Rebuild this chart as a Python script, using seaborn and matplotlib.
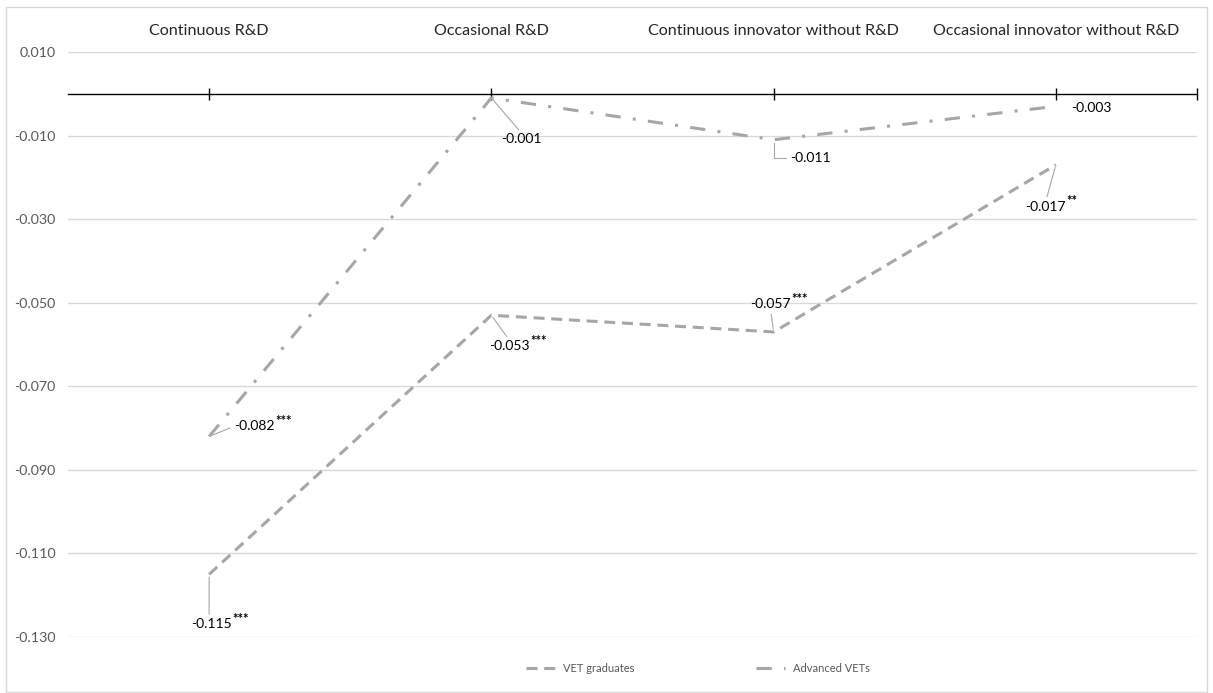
import numpy as np
import pandas as pd
import matplotlib
matplotlib.use("Agg")
import matplotlib.pyplot as plt
from matplotlib.patches import Rectangle
import seaborn as sns

# Firm innovation types (top axis) and the two estimated effects per type
categories = ["Continuous R&D", "Occasional R&D",
              "Continuous innovator without R&D", "Occasional innovator without R&D"]
series_names = ["VET graduates", "Advanced VETs"]
vet_graduates = [-0.115, -0.053, -0.057, -0.017]
vet_stars = ["***", "***", "***", "**"]
advanced_vets = [-0.082, -0.001, -0.011, -0.003]
advanced_stars = ["***", "", "", ""]
y_ticks = [0.010, -0.010, -0.030, -0.050, -0.070, -0.090, -0.110, -0.130]

sns.set_theme(style="white")
plt.rcParams["font.family"] = ["Lato", "DejaVu Sans"]

W, H = 1213, 693
fig = plt.figure(figsize=(W / 100, H / 100), dpi=100)
ax = fig.add_axes([68 / W, 1 - 637 / H, (1197 - 68) / W, (637 - 52) / H])

pos = np.arange(len(categories))
df = pd.DataFrame({
    "pos": np.concatenate([pos, pos]),
    "value": vet_graduates + advanced_vets,
    "series": [series_names[0]] * len(pos) + [series_names[1]] * len(pos),
})

grey = "#a6a6a6"
sns.lineplot(data=df, x="pos", y="value", hue="series", style="series",
             palette={n: grey for n in series_names},
             dashes={series_names[0]: (3.6, 2.2), series_names[1]: (5.0, 4.0, 1.0, 4.0)},
             linewidth=2.2, errorbar=None, sort=False, ax=ax)

# axes limits, grid and the zero line carrying the tick marks
ax.set_xlim(-0.5, len(categories) - 0.5)
ax.set_ylim(-0.130, 0.010)
ax.set_yticks(y_ticks)
ax.set_yticklabels([f"{v:.3f}" for v in y_ticks])
ax.yaxis.grid(True, color="#d9d9d9", linewidth=1)
ax.xaxis.grid(False)
ax.tick_params(axis="y", length=0, pad=9, labelsize=10.3, labelcolor="#595959")
for side in ("left", "top", "right"):
    ax.spines[side].set_visible(False)
ax.spines["bottom"].set_position(("data", 0))
ax.spines["bottom"].set_color("black")
ax.spines["bottom"].set_linewidth(1)
ax.spines["bottom"].set_zorder(1)
ax.set_xticks(list(pos) + [len(categories) - 0.5])
ax.set_xticklabels([])
ax.tick_params(axis="x", bottom=True, direction="inout", length=9, width=1, color="black")
ax.set_xlabel("")
ax.set_ylabel("")

# category names along the top
top = ax.secondary_xaxis("top")
top.set_xticks(pos)
top.set_xticklabels(categories)
top.tick_params(length=0, pad=10, labelsize=11.6, labelcolor="#262626")
top.spines["top"].set_visible(False)

# data labels: text offset (px) from the point, leader anchor on the text box, connector
px = 0.72
label_layout = {
    series_names[0]: [((2, -50), (0.45, 1.0), "arc3"),
                      ((18, -31), (0.5, 1.0), "arc3"),
                      ((-3, 28), (0.5, 0.0), "arc3"),
                      ((-10, -42), (0.5, 1.0), "arc3")],
    series_names[1]: [((45, 10), (0.0, 0.5), "arc3"),
                      ((30, -41), (0.5, 1.0), "arc3"),
                      ((37, -18), (0.0, 0.5), "angle,angleA=0,angleB=90,rad=0"),
                      ((35, -2), None, None)],
}
for name, values, stars in ((series_names[0], vet_graduates, vet_stars),
                            (series_names[1], advanced_vets, advanced_stars)):
    for i, (v, s) in enumerate(zip(values, stars)):
        (dx, dy), anchor, conn = label_layout[name][i]
        t = ax.annotate(f"{v:.3f}", xy=(i, v), xytext=(dx * px, dy * px),
                        textcoords="offset points", ha="center", va="center",
                        fontsize=10, color="black")
        if anchor is not None:
            ax.annotate("", xy=(i, v), xycoords="data", xytext=anchor, textcoords=t,
                        arrowprops=dict(arrowstyle="-", color=grey, lw=0.8,
                                        shrinkA=3, shrinkB=2, connectionstyle=conn))
        if s:
            ax.annotate(s, xy=(1.0, 0.95), xycoords=t, xytext=(0.5, 0),
                        textcoords="offset points", ha="left", va="center",
                        fontsize=9.5, fontweight="bold", color="black")

# legend below the plot
handles, labels = ax.get_legend_handles_labels()
if ax.get_legend() is not None:
    ax.get_legend().remove()
fig.legend(handles, labels, loc="center", bbox_to_anchor=(698 / W, 1 - 668 / H),
           ncol=2, frameon=False, fontsize=8, labelcolor="#595959",
           handlelength=2.6, columnspacing=11, handletextpad=0.7)

# outer chart border
fig.patches.append(Rectangle((6 / W, 1.5 / H), 1201 / W, 684.5 / H,
                             transform=fig.transFigure, fill=False,
                             edgecolor="#d9d9d9", linewidth=1))

fig.savefig("out.png", dpi=100)
